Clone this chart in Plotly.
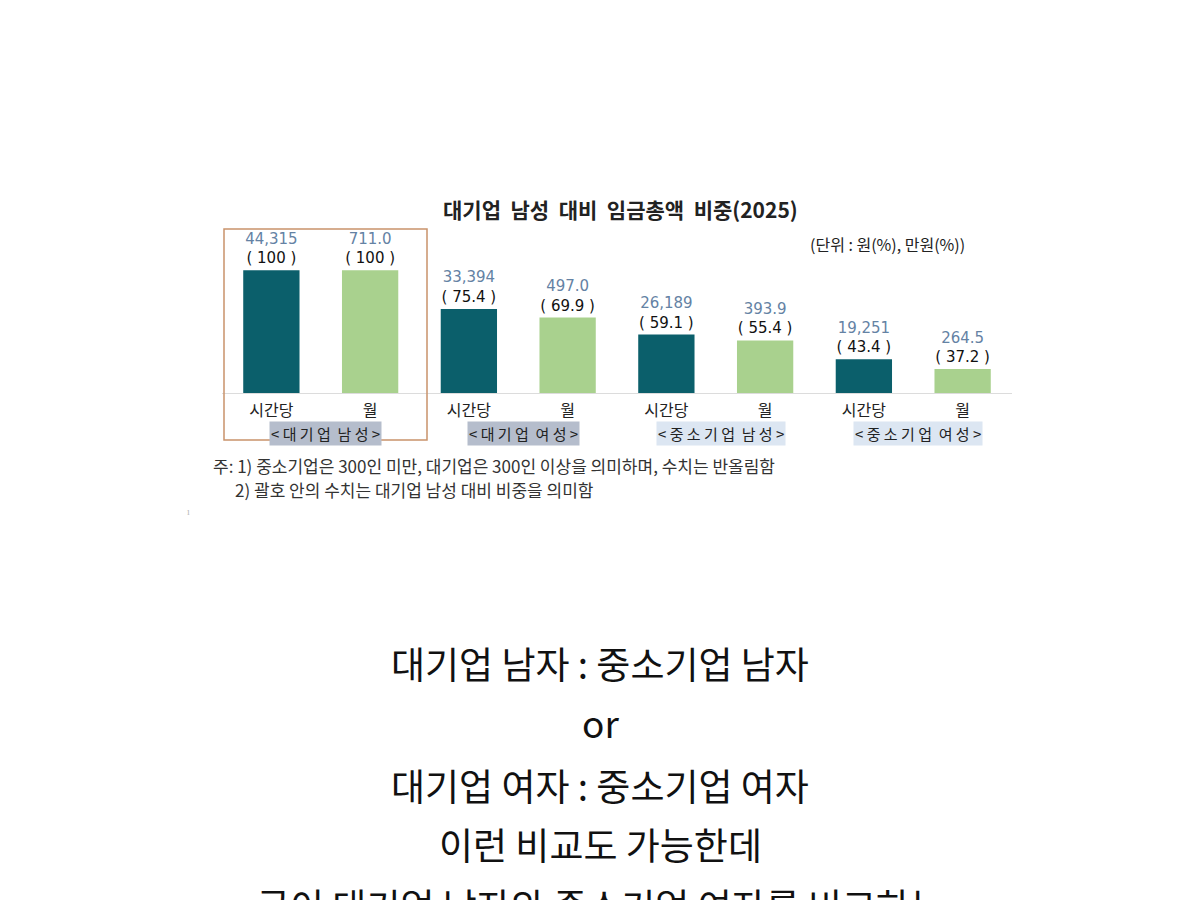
import plotly.graph_objects as go

groups = ["대기업 남성", "대기업 여성", "중소기업 남성", "중소기업 여성"]
kinds = ["시간당", "월"]
hourly_won = [44315, 33394, 26189, 19251]
monthly_manwon = [711.0, 497.0, 393.9, 264.5]
hourly_pct = [100, 75.4, 59.1, 43.4]
monthly_pct = [100, 69.9, 55.4, 37.2]

title = "대기업 남성 대비 임금총액 비중(2025)"
unit = "(단위 : 원(%), 만원(%))"
notes = ["주: 1) 중소기업은 300인 미만, 대기업은 300인 이상을 의미하며, 수치는 반올림함",
         "2) 괄호 안의 수치는 대기업 남성 대비 비중을 의미함"]
post_lines = ["대기업 남자 : 중소기업 남자", "or", "대기업 여자 : 중소기업 여자",
              "이런 비교도 가능한데", "굳이 대기업 남자와 중소기업 여자를 비교하는"]

FONT = "Noto Sans CJK KR"
NUMFONT = "DejaVu Sans"
DARK = "#0b5f6b"
GREEN = "#a9d18e"
NUMCOL = "#6482a4"

# the page puts the plot 8px in from the top-left corner
OFF = 8


def px(x):
    return (x - OFF) / 1200


def py(y):
    return 1 - (y - OFF) / 900


cats = [f"{g}|{k}" for g in groups for k in kinds]


def label(raw, pct):
    return f"<span style='color:{NUMCOL}'>{raw}</span><br>( {pct:g} )"


fig = go.Figure()
fig.add_trace(go.Bar(
    x=[f"{g}|시간당" for g in groups], y=hourly_pct,
    marker=dict(color=DARK, line=dict(width=0)),
    text=[label(f"{w:,}", p) for w, p in zip(hourly_won, hourly_pct)],
    textposition="outside", cliponaxis=False,
    textfont=dict(family=NUMFONT, size=15, color="#111"),
    hoverinfo="skip",
))
fig.add_trace(go.Bar(
    x=[f"{g}|월" for g in groups], y=monthly_pct,
    marker=dict(color=GREEN, line=dict(width=0)),
    text=[label(f"{m:.1f}", p) for m, p in zip(monthly_manwon, monthly_pct)],
    textposition="outside", cliponaxis=False,
    textfont=dict(family=NUMFONT, size=15, color="#111"),
    hoverinfo="skip",
))

fig.update_layout(
    width=1200, height=900,
    margin=dict(l=0, r=0, t=0, b=0),
    paper_bgcolor="white", plot_bgcolor="white",
    showlegend=False, barmode="overlay", bargap=0.43,
    font=dict(family=FONT, color="#222"),
)
fig.update_xaxes(
    domain=[px(222), px(1012)],
    type="category", categoryorder="array", categoryarray=cats,
    range=[-0.5, len(cats) - 0.5],
    tickvals=cats, ticktext=[c.split("|")[1] for c in cats],
    tickfont=dict(family=FONT, size=16, color="#222"),
    ticklabelstandoff=3,
    showline=True, linecolor="#dcdcdc", linewidth=1,
    ticks="", showgrid=False, fixedrange=True,
)
fig.update_yaxes(
    domain=[py(393), py(230)],
    range=[22, 125.5], visible=False, fixedrange=True,
)

# highlight box around 대기업 남성
fig.add_shape(type="rect", xref="paper", yref="paper",
              x0=px(224), x1=px(427), y0=py(440), y1=py(229),
              line=dict(color="#c9936b", width=1.5), fillcolor="rgba(0,0,0,0)")

for i, g in enumerate(groups):
    spaced = "  ".join(" ".join(w) for w in g.split(" "))
    fig.add_annotation(
        x=2 * i + 0.55, y=py(433.5), xref="x", yref="paper",
        xanchor="center", yanchor="middle",
        text=f"&lt; {spaced} &gt;", showarrow=False,
        font=dict(family=FONT, size=15, color="#222"),
        bgcolor="#b5bdcc" if g.startswith("대기업") else "#dce6f2",
        borderpad=1,
    )


def note(text, x, y, size, anchor="center", bold=False, color="#222"):
    fig.add_annotation(x=px(x), y=py(y), xref="paper", yref="paper",
                       xanchor=anchor, yanchor="middle",
                       text=f"<b>{text}</b>" if bold else text, showarrow=False,
                       font=dict(family=FONT, size=size, color=color))


note(title.replace(" ", "  "), 620, 209, 21, bold=True)
note(unit, 888, 244, 16)
note(notes[0], 211, 466, 17, anchor="left", color="#333")
note(notes[1], 233, 489, 17, anchor="left", color="#333")
note("ı", 188, 510, 10, color="#bbbbbb")

for line, ypx in zip(post_lines, [663, 722, 785, 844, 905]):
    note(line, 600, ypx, 37, color="#111")

fig.write_html("out.html")
